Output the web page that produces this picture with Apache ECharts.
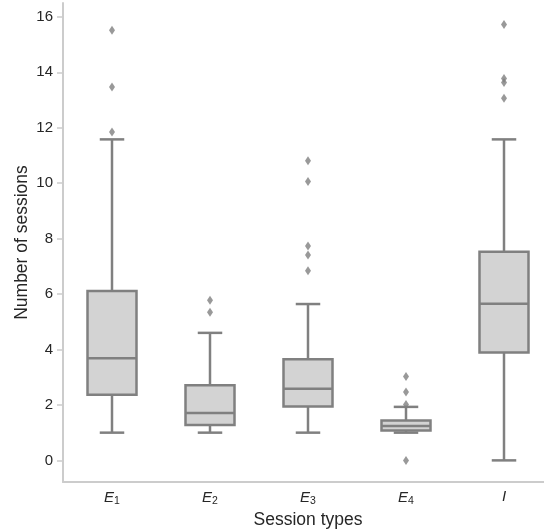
<!DOCTYPE html>
<html>
<head>
<meta charset="utf-8">
<script src="https://cdn.jsdelivr.net/npm/echarts@6/dist/echarts.min.js"></script>
<style>
  html, body { margin: 0; padding: 0; background: #fff; }
  #chart { width: 544px; height: 531px; }
</style>
</head>
<body>
<div id="chart"></div>
<script type="text/javascript">
    // values
    var categories = ['E1', 'E2', 'E3', 'E4', 'I'];
    var lowWhisker = [1.0, 1.0, 1.0, 1.0, 0.0];
    var q1 = [2.37, 1.28, 1.94, 1.08, 3.89];
    var median = [3.68, 1.71, 2.58, 1.24, 5.65];
    var q3 = [6.11, 2.71, 3.65, 1.44, 7.53];
    var highWhisker = [11.58, 4.60, 5.64, 1.93, 11.58];
    var outliers = [
        [15.52, 13.47, 11.85],
        [5.78, 5.34],
        [10.81, 10.06, 7.73, 7.41, 6.84],
        [3.03, 2.47, 2.02, 0.0],
        [15.72, 13.78, 13.63, 13.06]
    ];
    var yTicks = [0, 2, 4, 6, 8, 10, 12, 14, 16];

    var boxData = categories.map(function (c, i) {
        return [i, lowWhisker[i], q1[i], median[i], q3[i], highWhisker[i]];
    });
    var outlierData = [];
    outliers.forEach(function (list, i) {
        list.forEach(function (v) { outlierData.push([i, v]); });
    });

    var edge = '#808080';
    var lw = 2.5;

    function renderBox(params, api) {
        var idx = api.value(0);
        var band = api.size([1, 0])[0];
        var boxW = band * 0.5;
        var capW = boxW * 0.5;
        var x = api.coord([idx, 0])[0];
        var yLo = api.coord([idx, api.value(1)])[1];
        var yQ1 = api.coord([idx, api.value(2)])[1];
        var yMed = api.coord([idx, api.value(3)])[1];
        var yQ3 = api.coord([idx, api.value(4)])[1];
        var yHi = api.coord([idx, api.value(5)])[1];
        var ls = { stroke: edge, lineWidth: lw, fill: null };
        return {
            type: 'group',
            children: [
                { type: 'line', shape: { x1: x, y1: yQ1, x2: x, y2: yLo }, style: ls },
                { type: 'line', shape: { x1: x, y1: yQ3, x2: x, y2: yHi }, style: ls },
                { type: 'line', shape: { x1: x - capW / 2, y1: yLo, x2: x + capW / 2, y2: yLo }, style: ls },
                { type: 'line', shape: { x1: x - capW / 2, y1: yHi, x2: x + capW / 2, y2: yHi }, style: ls },
                { type: 'rect', shape: { x: x - boxW / 2, y: yQ3, width: boxW, height: yQ1 - yQ3 },
                  style: { fill: '#d3d3d3', stroke: edge, lineWidth: lw } },
                { type: 'line', shape: { x1: x - boxW / 2, y1: yMed, x2: x + boxW / 2, y2: yMed }, style: ls }
            ]
        };
    }

    var myChart = echarts.init(document.getElementById('chart'));
    var option = {
        animation: false,
        textStyle: { fontFamily: 'Liberation Sans, Arial, sans-serif' },
        grid: { left: 63, top: 3, width: 490, height: 479, containLabel: false, outerBoundsMode: 'none' },
        xAxis: {
            type: 'category',
            data: categories,
            boundaryGap: true,
            name: 'Session types',
            nameLocation: 'middle',
            nameGap: 29,
            nameMoveOverlap: false,
            nameTextStyle: { fontSize: 17.5, color: '#262626' },
            axisLine: { onZero: false, lineStyle: { color: '#cccccc', width: 2 } },
            axisTick: { alignWithLabel: true, interval: 0, length: 5, lineStyle: { color: '#cccccc', width: 1.5 } },
            axisLabel: {
                interval: 0,
                hideOverlap: false,
                margin: 7,
                fontSize: 15,
                color: '#262626',
                formatter: function (v) {
                    if (v.length > 1) return '{it|' + v.charAt(0) + '}{sub|' + v.slice(1) + '}';
                    return '{it|' + v + '}';
                },
                rich: {
                    it: { fontStyle: 'italic', fontSize: 15, color: '#262626' },
                    sub: { fontSize: 10.5, color: '#262626', verticalAlign: 'bottom', padding: [7, 0, 0, 0] }
                }
            },
            splitLine: { show: false }
        },
        yAxis: {
            type: 'value',
            min: -0.78,
            max: 16.5,
            name: 'Number of sessions',
            nameLocation: 'middle',
            nameGap: 32,
            nameMoveOverlap: false,
            nameTextStyle: { fontSize: 17.5, color: '#262626' },
            axisLine: { show: true, lineStyle: { color: '#cccccc', width: 2 } },
            axisTick: { show: true, length: 6, customValues: yTicks, lineStyle: { color: '#cccccc', width: 1.5 } },
            axisLabel: { customValues: yTicks, margin: 10, fontSize: 15, color: '#262626' },
            splitLine: { show: false }
        },
        series: [
            {
                type: 'custom',
                renderItem: renderBox,
                data: boxData,
                encode: { x: 0, y: [1, 2, 3, 4, 5] },
                z: 2
            },
            {
                type: 'scatter',
                data: outlierData,
                symbol: 'diamond',
                symbolSize: [6, 9],
                itemStyle: { color: edge },
                z: 3
            }
        ]
    };
    myChart.setOption(option);
</script>
</body>
</html>
